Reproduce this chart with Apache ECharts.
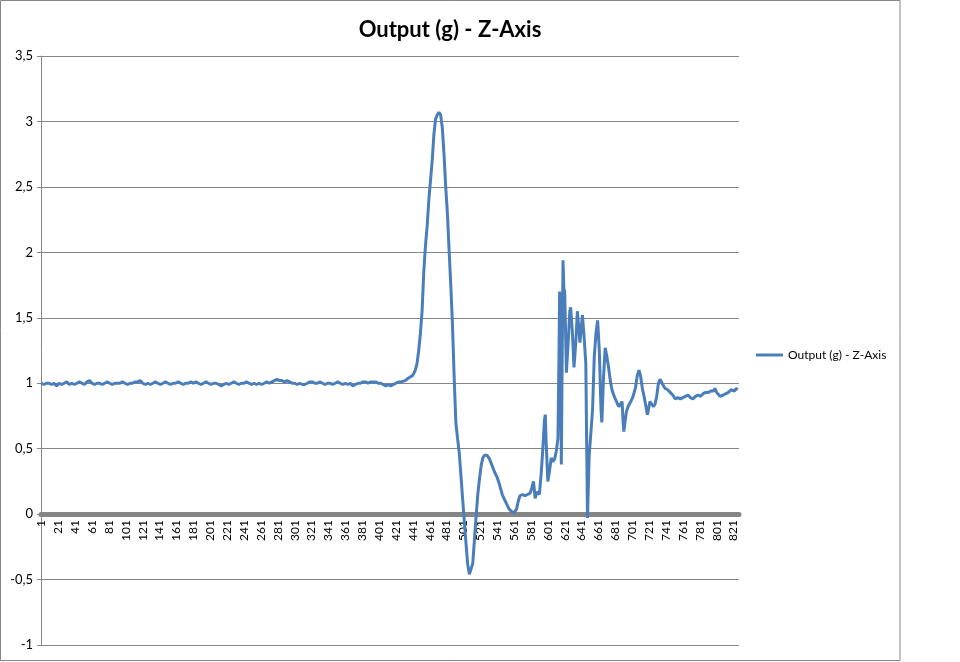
<!DOCTYPE html>
<html><head><meta charset="utf-8">
<script src="https://cdn.jsdelivr.net/npm/echarts@6/dist/echarts.min.js"></script>
<style>html,body{margin:0;padding:0;background:#fff}#c{width:960px;height:662px}</style>
</head><body><div id="c"></div>
<script>
const seriesName = 'Output (g) - Z-Axis';
const sampleCount = 827;

const sampleNo = [
  1,4,7,10,13,16,19,22,25,28,
  31,34,37,40,43,46,49,52,55,58,
  61,64,67,70,73,76,79,82,85,88,
  91,94,97,100,103,106,109,112,115,118,
  121,124,127,130,133,136,139,142,145,148,
  151,154,157,160,163,166,169,172,175,178,
  181,184,187,190,193,196,199,202,205,208,
  211,214,217,220,223,226,229,232,235,238,
  241,244,247,250,253,256,259,262,265,268,
  271,274,277,280,283,286,289,292,295,298,
  301,304,307,310,313,316,319,322,325,328,
  331,334,337,340,343,346,349,352,355,358,
  361,364,367,370,373,376,379,382,385,388,
  391,394,397,400,403,406,409,412,415,418,
  421,424,427,
  432,436,441,444,446,448,450,452,454,456,458,460,462,464,466,468,470,472,474,476,478,480,482,484,486,488,490,492,494,496,498,500,502,504,506,508,510,512,514,516,518,520,522,524,526,529,532,535,538,541,544,547,549,552,555,558,561,564,566,568,571,574,577,580,582,584,586,588,591,593,595,597,598,599,601,603,605,607,609,611,613,614,615,616,617,618,619,620,621,623,625,627,628,630,632,634,636,638,639,641,642,644,646,648,650,652,654,656,658,660,662,664,665,667,669,671,673,675,677,679,681,683,685,687,689,690,691,692,694,696,698,700,702,704,705,707,709,711,713,715,717,719,720,722,724,726,728,730,732,734,736,738,740,743,746,749,752,755,758,761,764,767,770,773,776,779,782,785,788,791,794,797,799,801,803,805,807,809,812,815,818,820,822,824,826
];

const outputG = [
  1.00,0.99,1.00,1.00,0.99,1.00,0.98,1.00,0.99,1.00,
  1.01,0.99,1.00,0.99,1.00,1.01,1.00,0.99,1.01,1.02,
  1.00,0.99,1.00,1.00,0.99,1.00,1.01,1.00,0.99,1.00,
  1.00,1.00,1.01,1.00,0.99,1.00,1.00,1.01,1.01,1.02,
  1.00,0.99,1.00,0.99,1.00,1.01,1.00,0.99,1.00,1.01,
  1.00,0.99,1.00,1.00,1.01,1.00,0.99,1.00,1.00,1.01,
  1.00,1.01,1.00,0.99,1.00,1.01,1.00,0.99,1.00,1.00,
  0.99,0.98,0.99,1.00,0.99,1.00,1.01,1.00,0.99,1.00,
  1.00,1.01,1.00,0.99,1.00,0.99,1.00,0.99,1.00,1.01,
  1.00,1.01,1.02,1.03,1.02,1.02,1.01,1.02,1.01,1.00,
  1.00,0.99,1.00,0.99,0.99,1.00,1.01,1.01,1.00,1.00,
  1.01,1.00,0.99,1.00,1.00,0.99,1.00,1.01,1.00,0.99,
  1.00,0.99,1.00,0.98,0.99,1.00,1.00,1.01,1.01,1.00,
  1.01,1.01,1.01,1.00,1.00,0.99,0.98,0.99,0.98,0.99,
  1.00,1.01,1.01,
  1.02,1.04,1.06,1.10,1.15,1.25,1.38,1.55,1.85,2.05,2.20,2.40,2.55,2.70,2.90,3.02,3.05,3.07,3.05,2.95,2.75,2.50,2.30,2.02,1.75,1.45,1.05,0.70,0.58,0.47,0.30,0.12,-0.05,-0.22,-0.38,-0.46,-0.47,-0.38,-0.20,-0.02,0.15,0.27,0.37,0.43,0.45,0.45,0.42,0.37,0.32,0.28,0.22,0.15,0.12,0.08,0.04,0.02,0.01,0.04,0.10,0.14,0.15,0.14,0.15,0.16,0.20,0.25,0.12,0.17,0.15,0.30,0.49,0.72,0.76,0.55,0.25,0.33,0.43,0.40,0.42,0.48,0.58,1.10,1.70,1.45,0.38,1.20,1.94,1.72,1.70,1.08,1.30,1.55,1.58,1.40,1.12,1.30,1.55,1.40,1.31,1.45,1.52,1.35,1.15,-0.03,0.45,0.62,0.80,1.20,1.38,1.48,1.25,0.80,0.70,1.05,1.27,1.20,1.12,1.02,0.95,0.91,0.90,0.85,0.82,0.84,0.86,0.72,0.63,0.63,0.78,0.82,0.82,0.87,0.90,0.91,0.97,1.06,1.10,1.05,0.96,0.90,0.83,0.76,0.75,0.86,0.85,0.82,0.84,0.90,1.00,1.03,1.02,0.98,0.96,0.95,0.93,0.91,0.88,0.89,0.88,0.89,0.90,0.91,0.89,0.88,0.90,0.91,0.90,0.92,0.93,0.93,0.94,0.94,0.96,0.93,0.92,0.90,0.89,0.91,0.92,0.93,0.95,0.96,0.94,0.96,0.95
];

const yMin = -1, yMax = 3.5, yStep = 0.5;

const categories = [];
for (let i = 1; i <= sampleCount; i++) categories.push(String(i));
const seriesData = sampleNo.map((n, k) => [n - 1, outputG[k]]);

const gridTop = 56, gridHeight = 589;
const zeroOffset = -gridHeight * (0 - yMin) / (yMax - yMin);

const chart = echarts.init(document.getElementById('c'));
chart.setOption({
  animation: false,
  textStyle: { fontFamily: 'Lato' },
  title: {
    text: seriesName, left: 445, top: 14, textAlign: 'center',
    textStyle: { fontFamily: 'Lato', fontSize: 22, fontWeight: 'bold', color: '#000' }
  },
  legend: {
    left: 751, top: 344, itemWidth: 27, itemHeight: 3, icon: 'rect',
    data: [seriesName],
    textStyle: { fontFamily: 'Lato', fontSize: 12, color: '#000' }
  },
  grid: { left: 41, top: gridTop, width: 698, height: gridHeight, containLabel: false, outerBoundsMode: 'none' },
  xAxis: {
    type: 'category', data: categories, boundaryGap: true,
    position: 'bottom', offset: zeroOffset,
    axisLine: { onZero: false, lineStyle: { color: '#868686', width: 5 } },
    axisTick: { show: false },
    axisLabel: { interval: 19, rotate: 90, margin: 6, fontSize: 12, color: '#000', fontFamily: 'Lato' },
    splitLine: { show: false }
  },
  yAxis: {
    type: 'value', min: yMin, max: yMax, interval: yStep,
    axisLine: { show: true, lineStyle: { color: '#868686' } },
    axisTick: { show: true, length: 4, lineStyle: { color: '#868686' } },
    axisLabel: { margin: 8, fontSize: 13, color: '#000', fontFamily: 'Lato',
      formatter: v => String(v).replace('.', ',') },
    splitLine: { lineStyle: { color: '#868686', width: 1 } }
  },
  series: [{
    name: seriesName, type: 'line', data: seriesData,
    showSymbol: false, symbol: 'none', smooth: false,
    lineStyle: { color: '#4a7ebb', width: 3 }, itemStyle: { color: '#4a7ebb' }
  }],
  graphic: [{
    type: 'rect', silent: true,
    shape: { x: 0.5, y: 0.5, width: 899.5, height: 660 },
    style: { fill: 'none', stroke: '#868686', lineWidth: 1 }
  }]
});
</script>
</body></html>
